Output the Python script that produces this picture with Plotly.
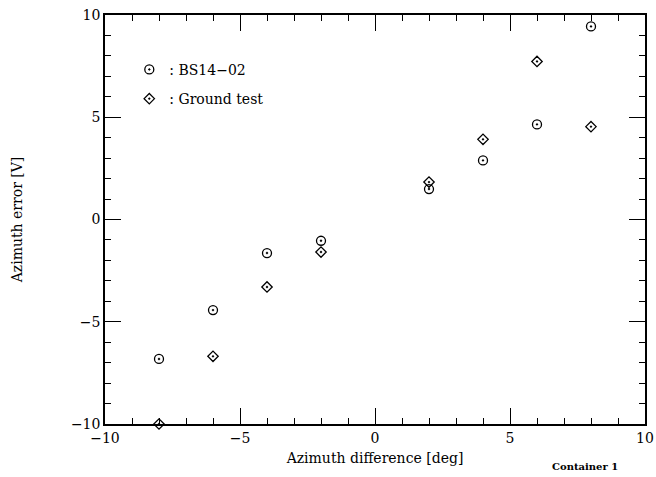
import plotly.graph_objects as go

# Azimuth difference settings [deg]
azimuth_diff = [-8, -6, -4, -2, 2, 4, 6, 8]

# Azimuth error readings [V]
bs14_02 = [-6.82, -4.43, -1.64, -1.04, 1.49, 2.89, 4.65, 9.44]
ground_test = [-10.0, -6.69, -3.30, -1.59, 1.83, 3.92, 7.73, 4.54]

tick_vals = [-10, -5, 0, 5, 10]
tick_text = ["\u221210", "\u22125", "0", "5", "10"]

FONT = "DejaVu Serif"

fig = go.Figure()
fig.add_trace(go.Scatter(
    x=azimuth_diff, y=bs14_02, mode="markers", name=": BS14\u221202",
    legendgroup="a",
    marker=dict(symbol="circle-open-dot", size=9, color="black",
                line=dict(width=1.3, color="black")),
    cliponaxis=False,
))
fig.add_trace(go.Scatter(
    x=azimuth_diff, y=ground_test, mode="markers", name=": Ground test",
    legendgroup="b",
    marker=dict(symbol="diamond-open-dot", size=8, color="black",
                line=dict(width=1.3, color="black")),
    cliponaxis=False,
))

axis_common = dict(
    range=[-10, 10], tickmode="array", tickvals=tick_vals, ticktext=tick_text,
    ticks="inside", ticklen=16, tickwidth=1, tickcolor="black",
    minor=dict(ticks="inside", ticklen=6, tickwidth=1, dtick=1, tickcolor="black"),
    showline=True, linecolor="black", linewidth=1.5, mirror="ticks",
    showgrid=False, zeroline=False, automargin=False,
    tickfont=dict(family=FONT, size=14, color="black"),
)

fig.update_layout(
    width=656, height=477,
    margin=dict(l=105, r=11, t=15, b=53),
    paper_bgcolor="white", plot_bgcolor="white",
    font=dict(family=FONT, size=14, color="black"),
    showlegend=True,
    legend=dict(x=0.045, y=0.905, xanchor="left", yanchor="top",
                bgcolor="rgba(0,0,0,0)", tracegroupgap=8,
                font=dict(family=FONT, size=14, color="black")),
    xaxis=dict(axis_common, title=dict(text="Azimuth difference [deg]",
                                       font=dict(family=FONT, size=14), standoff=9)),
    yaxis=dict(axis_common, title=dict(text="Azimuth error [V]",
                                       font=dict(family=FONT, size=14), standoff=45)),
    annotations=[dict(text="<b>Container 1</b>", xref="paper", yref="paper",
                      x=0.889, y=-0.103, xanchor="center", yanchor="middle",
                      showarrow=False, font=dict(family=FONT, size=10, color="black"))],
)

fig.write_html("out.html")
